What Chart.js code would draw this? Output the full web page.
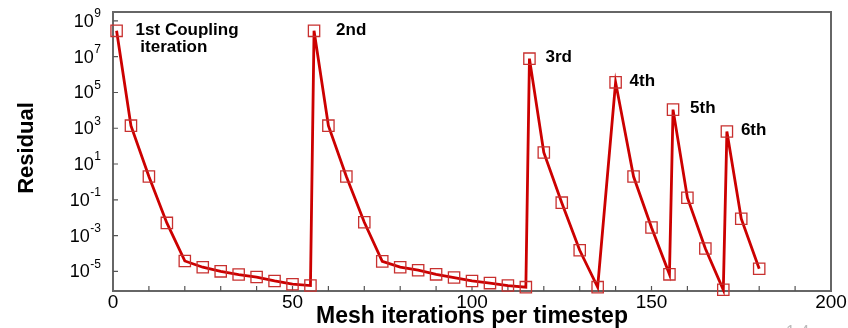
<!DOCTYPE html>
<html>
<head>
<meta charset="utf-8">
<script src="https://cdn.jsdelivr.net/npm/chart.js@4.4.0/dist/chart.umd.min.js"></script>
<style>
html, body { margin: 0; padding: 0; background: #fff; }
</style>
</head>
<body>
<canvas id="residualChart" width="848" height="328"></canvas>
<script>
// mesh iteration at which each residual was sampled
const iterations = [
  1, 5, 10, 15, 20, 25, 30, 35, 40, 45, 50, 55,
  56, 60, 65, 70, 75, 80, 85, 90, 95, 100, 105, 110, 115,
  116, 120, 125, 130, 135,
  140, 145, 150, 155,
  156, 160, 165, 170,
  171, 175, 180
];
const residuals = [
  2.8e8, 1.4e3, 2.0, 5.1e-3, 3.8e-5, 1.7e-5, 1.0e-5, 6.6e-6, 4.8e-6, 2.9e-6, 1.9e-6, 1.6e-6,
  2.8e8, 1.4e3, 2.0, 5.5e-3, 3.6e-5, 1.7e-5, 1.15e-5, 6.8e-6, 4.5e-6, 2.9e-6, 2.2e-6, 1.6e-6, 1.3e-6,
  7.8e6, 44, 6.9e-2, 1.5e-4, 1.3e-6,
  3.7e5, 2.0, 2.8e-3, 6.8e-6,
  1.1e4, 0.13, 1.9e-4, 9.3e-7,
  660, 8.7e-3, 1.4e-5
];
// start of each coupling iteration (index into the arrays above)
const peakIndex = [0, 12, 25, 30, 34, 38];
const peakText = [['1st Coupling', ' iteration'], ['2nd'], ['3rd'], ['4th'], ['5th'], ['6th']];
const peakShift = [19, 22, 16, 14, 17, 14];

const yExponents = [-5, -3, -1, 1, 3, 5, 7, 9];
const xTickStep = 10;
const xLabelStep = 50;

const FONT = "'Liberation Sans', Arial, sans-serif";

const points = iterations.map((it, i) => ({ x: it, y: residuals[i] }));

const framePlugin = {
  id: 'frame',
  beforeDatasetsDraw(chart) {
    const { ctx, chartArea: a, scales } = chart;
    ctx.save();
    ctx.strokeStyle = '#666';
    ctx.lineWidth = 2;
    ctx.strokeRect(a.left, a.top, a.right - a.left, a.bottom - a.top);
    ctx.lineWidth = 1.2;
    ctx.strokeStyle = '#555';
    ctx.beginPath();
    scales.x.ticks.forEach(t => {
      const px = scales.x.getPixelForValue(t.value);
      if (px <= a.left + 1 || px >= a.right - 1) return;
      ctx.moveTo(px, a.bottom);
      ctx.lineTo(px, a.bottom - 5);
    });
    scales.y.ticks.forEach(t => {
      const py = scales.y.getPixelForValue(t.value);
      ctx.moveTo(a.left, py);
      ctx.lineTo(a.left + 5, py);
    });
    ctx.stroke();
    ctx.restore();
  },
  afterDraw(chart) {
    const { ctx, chartArea: a, scales } = chart;
    ctx.save();
    ctx.fillStyle = '#000';
    // y tick labels as 10 with a raised exponent
    yExponents.forEach(p => {
      const py = scales.y.getPixelForValue(Math.pow(10, p));
      const exp = String(p);
      ctx.font = '12px ' + FONT;
      const w = ctx.measureText(exp).width;
      ctx.textBaseline = 'middle';
      ctx.textAlign = 'left';
      ctx.fillText(exp, 101 - w, py - 7);
      ctx.font = '18px ' + FONT;
      ctx.textAlign = 'right';
      ctx.fillText('10', 101 - w - 0.5, py + 1);
    });

    // axis titles
    ctx.font = 'bold 22px ' + FONT;
    ctx.textAlign = 'center';
    ctx.textBaseline = 'alphabetic';
    ctx.save();
    ctx.translate(33, 148);
    ctx.rotate(-Math.PI / 2);
    ctx.fillText('Residual', 0, 0);
    ctx.restore();
    ctx.font = 'bold 23px ' + FONT;
    ctx.fillText('Mesh iterations per timestep', (a.left + a.right) / 2, 323);

    // coupling iteration labels next to each restart
    const meta = chart.getDatasetMeta(0);
    ctx.font = 'bold 17px ' + FONT;
    ctx.textAlign = 'left';
    ctx.textBaseline = 'middle';
    peakIndex.forEach((idx, k) => {
      const pt = meta.data[idx];
      peakText[k].forEach((line, j) => {
        ctx.fillText(line, pt.x + peakShift[k], pt.y - 1 + j * 17);
      });
    });

    ctx.fillStyle = '#bbb';
    ctx.font = '16px ' + FONT;
    ctx.textAlign = 'left';
    ctx.textBaseline = 'alphabetic';
    ctx.fillText('1-4', 786, 337);
    ctx.restore();
  }
};

new Chart(document.getElementById('residualChart'), {
  type: 'line',
  data: {
    datasets: [{
      data: points,
      borderColor: '#cc0000',
      borderWidth: 2.8,
      tension: 0,
      pointStyle: 'rect',
      pointRadius: 8,
      pointBorderColor: '#c8302f',
      pointBorderWidth: 1.3,
      pointBackgroundColor: 'rgba(0,0,0,0)',
      clip: 10
    }]
  },
  options: {
    responsive: false,
    animation: false,
    devicePixelRatio: 1,
    layout: { padding: { top: 12, right: 17, bottom: 0, left: 0 } },
    plugins: { legend: { display: false }, tooltip: { enabled: false } },
    scales: {
      x: {
        type: 'linear',
        min: 0,
        max: 200,
        grid: { display: false },
        border: { display: false },
        ticks: {
          stepSize: xTickStep,
          autoSkip: false,
          maxRotation: 0,
          padding: -8,
          color: '#000',
          font: { family: FONT, size: 19 },
          callback: v => (v % xLabelStep === 0 ? v : '')
        },
        afterFit: s => { s.height = 37; }
      },
      y: {
        type: 'logarithmic',
        min: Math.pow(10, -6.1),
        max: Math.pow(10, 9.5),
        grid: { display: false },
        border: { display: false },
        ticks: { display: false },
        afterBuildTicks: s => { s.ticks = yExponents.map(p => ({ value: Math.pow(10, p) })); },
        afterFit: s => { s.width = 113; }
      }
    }
  },
  plugins: [framePlugin]
});
</script>
</body>
</html>
